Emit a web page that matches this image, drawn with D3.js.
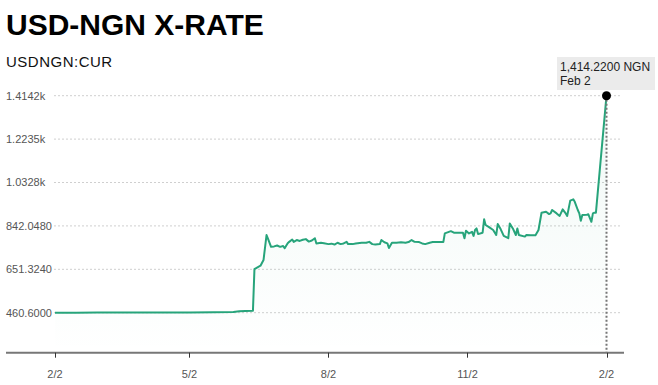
<!DOCTYPE html>
<html>
<head>
<meta charset="utf-8">
<script src="https://cdn.jsdelivr.net/npm/d3@7"></script>
<style>
  html, body { margin: 0; padding: 0; background: #fff; }
  svg { display: block; font-family: "Liberation Sans", Arial, Helvetica, sans-serif; }
</style>
</head>
<body>
<svg id="chart"></svg>
<script>
// USD-NGN daily close
var dates = [
  "2023-02-02","2023-02-16","2023-03-02","2023-03-19","2023-04-02","2023-04-18","2023-05-02","2023-05-18",
  "2023-05-31","2023-06-04","2023-06-08","2023-06-13","2023-06-14","2023-06-16","2023-06-18","2023-06-20",
  "2023-06-22","2023-06-23","2023-06-25","2023-06-27","2023-06-29","2023-07-01","2023-07-03","2023-07-04",
  "2023-07-06","2023-07-07","2023-07-09","2023-07-10","2023-07-12","2023-07-14","2023-07-16","2023-07-18",
  "2023-07-20","2023-07-22","2023-07-24","2023-07-25","2023-07-28","2023-07-30","2023-08-02","2023-08-04",
  "2023-08-06","2023-08-08","2023-08-10","2023-08-12","2023-08-14","2023-08-15","2023-08-18","2023-08-20",
  "2023-08-24","2023-08-27","2023-08-29","2023-08-31","2023-09-02","2023-09-05","2023-09-06","2023-09-08",
  "2023-09-10","2023-09-11","2023-09-13","2023-09-16","2023-09-19","2023-09-22","2023-09-24","2023-09-26",
  "2023-09-28","2023-10-01","2023-10-03","2023-10-05","2023-10-08","2023-10-10","2023-10-17","2023-10-18",
  "2023-10-22","2023-10-24","2023-10-30","2023-10-31","2023-11-01","2023-11-03","2023-11-05","2023-11-06",
  "2023-11-07","2023-11-08","2023-11-09","2023-11-12","2023-11-13","2023-11-14","2023-11-16","2023-11-19",
  "2023-11-21","2023-11-22","2023-11-24","2023-11-26","2023-11-29","2023-11-30","2023-12-02","2023-12-04",
  "2023-12-05","2023-12-06","2023-12-10","2023-12-11","2023-12-14","2023-12-17","2023-12-19","2023-12-21",
  "2023-12-24","2023-12-26","2023-12-27","2023-12-28","2023-12-31","2024-01-02","2024-01-04","2024-01-06",
  "2024-01-07","2024-01-09","2024-01-11","2024-01-12","2024-01-14","2024-01-15","2024-01-16","2024-01-17",
  "2024-01-20","2024-01-21","2024-01-23","2024-01-24","2024-01-25","2024-01-26","2024-02-02"
];
var rates = [
  460.6, 460.8, 461.0, 461.3, 461.4, 461.8, 462.0, 462.5,
  463.5, 466.5, 468.5, 469.5, 652, 660, 667, 692,
  802, 785, 750, 752, 756, 750, 754, 744,
  766, 772, 782, 772, 780, 776, 781, 784,
  773, 778, 788, 765, 768, 766, 762, 764,
  760, 768, 762, 765, 772, 762, 762, 765,
  768, 768, 772, 762, 760, 762, 780, 770,
  765, 745, 768, 768, 770, 768, 771, 780,
  772, 771, 765, 762, 768, 771, 771, 809,
  819, 812, 812, 788, 821, 809, 816, 798,
  824, 831, 806, 812, 871, 846, 838, 824,
  802, 850, 827, 798, 788, 853, 831, 802,
  831, 802, 795, 802, 801, 801, 824, 900,
  904, 894, 897, 912, 897, 886, 915, 897,
  886, 953, 959, 948, 912, 897, 865, 890,
  891, 893, 860, 897, 900, 900, 1414.22
];

var yTicks = [460.6, 651.324, 842.048, 1032.772, 1223.496, 1414.22];
var yTickLabels = ["460.6000", "651.3240", "842.0480", "1.0328k", "1.2235k", "1.4142k"];
var xTicks = ["2023-02-02", "2023-05-02", "2023-08-02", "2023-11-02", "2024-02-02"];
var xTickLabels = ["2/2", "5/2", "8/2", "11/2", "2/2"];

var title = "USD-NGN X-RATE",
    subtitle = "USDNGN:CUR",
    lastLabel = "1,414.2200 NGN",
    lastDate = "Feb 2";

var width = 658, height = 385;
var parse = d3.timeParse("%Y-%m-%d");

var data = dates.map(function(d, i) { return {date: parse(d), value: rates[i]}; });

var svg = d3.select("#chart").attr("width", width).attr("height", height);

var x = d3.scaleTime()
    .domain([parse(xTicks[0]), parse(xTicks[xTicks.length - 1])])
    .range([55, 606.5]);

var y = d3.scaleLinear()
    .domain([yTicks[0], yTicks[yTicks.length - 1]])
    .range([312.7, 95.7]);

var axisY = 352.7;

// title
svg.append("text")
    .attr("x", 6).attr("y", 35)
    .style("font-size", "30px").style("font-weight", "bold").style("fill", "#000")
    .text(title);

svg.append("text")
    .attr("x", 6).attr("y", 66.7)
    .style("font-size", "15px").style("fill", "#111")
    .style("letter-spacing", "0.5px")
    .text(subtitle);

// gridlines + labels
var grid = svg.append("g");
grid.selectAll("line")
    .data(yTicks)
  .enter().append("line")
    .attr("x1", 54).attr("x2", 621)
    .attr("y1", function(d) { return y(d); })
    .attr("y2", function(d) { return y(d); })
    .attr("stroke", "#cfcfcf")
    .attr("stroke-width", 1)
    .attr("stroke-dasharray", "2,2");

grid.selectAll("text")
    .data(yTicks)
  .enter().append("text")
    .attr("x", 6)
    .attr("y", function(d) { return y(d) + 3.8; })
    .style("font-size", "11px").style("fill", "#555")
    .text(function(d, i) { return yTickLabels[i]; });

// area gradient
var defs = svg.append("defs");
var grad = defs.append("linearGradient")
    .attr("id", "fade")
    .attr("gradientUnits", "userSpaceOnUse")
    .attr("x1", 0).attr("x2", 0)
    .attr("y1", y(yTicks[yTicks.length - 1])).attr("y2", axisY);
grad.append("stop").attr("offset", "0%").attr("stop-color", "#26a17a").attr("stop-opacity", 0.07);
grad.append("stop").attr("offset", "100%").attr("stop-color", "#26a17a").attr("stop-opacity", 0);

var area = d3.area()
    .x(function(d) { return x(d.date); })
    .y0(axisY)
    .y1(function(d) { return y(d.value); });

svg.append("path")
    .datum(data)
    .attr("d", area)
    .attr("fill", "url(#fade)");

var line = d3.line()
    .x(function(d) { return x(d.date); })
    .y(function(d) { return y(d.value); });

svg.append("path")
    .datum(data)
    .attr("d", line)
    .attr("fill", "none")
    .attr("stroke", "#27a47b")
    .attr("stroke-width", 2)
    .attr("stroke-linejoin", "round");

// x axis
svg.append("line")
    .attr("x1", 6).attr("x2", 624)
    .attr("y1", axisY).attr("y2", axisY)
    .attr("stroke", "#777").attr("stroke-width", 2);

var xg = svg.append("g");
xg.selectAll("line")
    .data(xTicks)
  .enter().append("line")
    .attr("x1", function(d) { return Math.round(x(parse(d))) + 0.5; })
    .attr("x2", function(d) { return Math.round(x(parse(d))) + 0.5; })
    .attr("y1", axisY).attr("y2", axisY + 5)
    .attr("stroke", "#333").attr("stroke-width", 1);

xg.selectAll("text")
    .data(xTicks)
  .enter().append("text")
    .attr("x", function(d) { return x(parse(d)); })
    .attr("y", 378)
    .attr("text-anchor", "middle")
    .style("font-size", "11px").style("fill", "#555")
    .text(function(d, i) { return xTickLabels[i]; });

// last point marker
var last = data[data.length - 1];
svg.append("line")
    .attr("x1", x(last.date)).attr("x2", x(last.date))
    .attr("y1", y(last.value)).attr("y2", axisY)
    .attr("stroke", "#777").attr("stroke-width", 2)
    .attr("stroke-dasharray", "2,2");

svg.append("circle")
    .attr("cx", x(last.date)).attr("cy", y(last.value))
    .attr("r", 4.5).attr("fill", "#000");

var tip = svg.append("g").attr("transform", "translate(557,57)");
tip.append("rect")
    .attr("width", 98).attr("height", 33)
    .attr("fill", "#ebebeb");
tip.append("text")
    .attr("x", 3).attr("y", 14)
    .style("font-size", "12px").style("fill", "#222")
    .text(lastLabel);
tip.append("text")
    .attr("x", 3).attr("y", 28)
    .style("font-size", "12px").style("fill", "#222")
    .text(lastDate);
</script>
</body>
</html>
